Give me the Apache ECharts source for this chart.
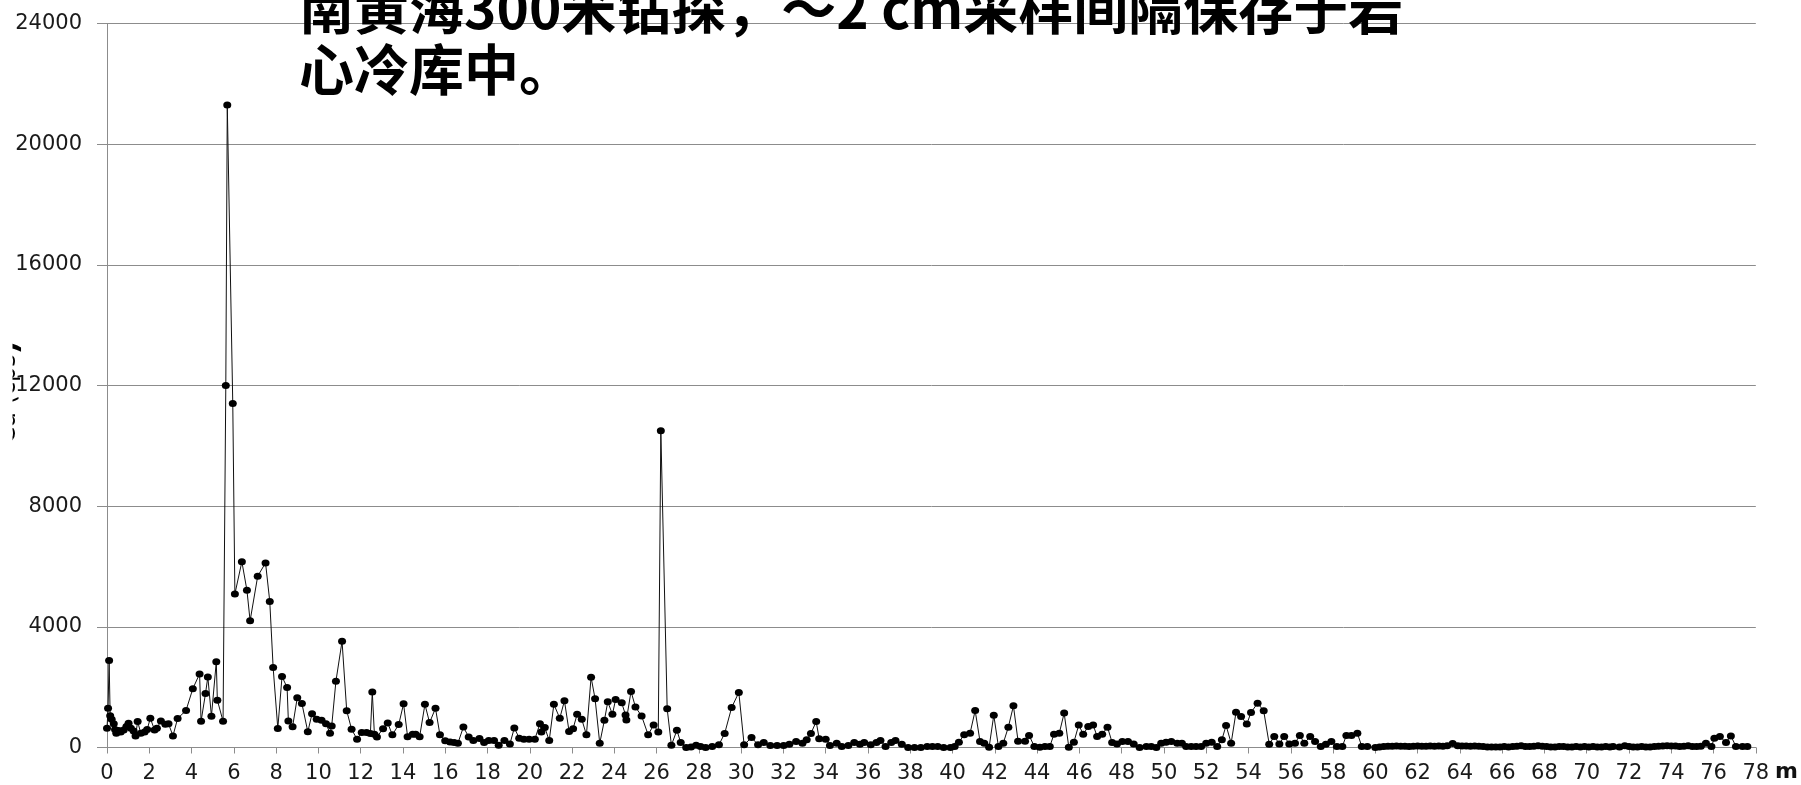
<!DOCTYPE html>
<html>
<head>
<meta charset="utf-8">
<title>钻孔岩心 XRF 计数随深度变化</title>
<script src="https://cdn.jsdelivr.net/npm/echarts@6/dist/echarts.min.js"></script>
<style>
  html, body { margin: 0; padding: 0; background: #fff; }
  #chart { width: 1801px; height: 785px; }
</style>
</head>
<body>
<div id="chart"></div>
<script>
// Core depth (m) of each measured sample
const depthM = [
  0.00, 0.05, 0.10, 0.15, 0.22, 0.32, 0.38, 0.44, 0.55, 0.65,
  0.79, 0.92, 1.02, 1.13, 1.26, 1.35, 1.45, 1.60, 1.78, 1.90,
  2.05, 2.25, 2.36, 2.55, 2.76, 2.91, 3.12, 3.34, 3.74, 4.06,
  4.38, 4.45, 4.66, 4.77, 4.94, 5.17, 5.22, 5.49, 5.62, 5.69,
  5.95, 6.05, 6.38, 6.62, 6.77, 7.13, 7.50, 7.70, 7.86, 8.08,
  8.28, 8.52, 8.58, 8.78, 9.00, 9.22, 9.50, 9.70, 9.92, 10.15,
  10.36, 10.55, 10.63, 10.83, 11.12, 11.34, 11.57, 11.83, 12.05, 12.28,
  12.46, 12.55, 12.65, 12.77, 13.06, 13.28, 13.50, 13.80, 14.03, 14.22,
  14.46, 14.60, 14.79, 15.04, 15.26, 15.54, 15.75, 16.00, 16.23, 16.42,
  16.60, 16.86, 17.11, 17.33, 17.62, 17.84, 18.06, 18.31, 18.53, 18.80,
  19.06, 19.27, 19.50, 19.72, 19.97, 20.24, 20.48, 20.55, 20.71, 20.92,
  21.14, 21.42, 21.64, 21.86, 22.05, 22.24, 22.46, 22.68, 22.90, 23.09,
  23.31, 23.53, 23.69, 23.91, 24.06, 24.35, 24.53, 24.57, 24.79, 25.00,
  25.29, 25.60, 25.86, 26.08, 26.20, 26.50, 26.70, 26.96, 27.14, 27.40,
  27.63, 27.87, 28.08, 28.32, 28.63, 28.95, 29.22, 29.55, 29.89, 30.14,
  30.49, 30.80, 31.07, 31.38, 31.70, 32.01, 32.28, 32.60, 32.90, 33.10,
  33.30, 33.55, 33.69, 34.00, 34.20, 34.52, 34.76, 35.07, 35.35, 35.62,
  35.82, 36.13, 36.40, 36.59, 36.83, 37.10, 37.30, 37.60, 37.90, 38.20,
  38.50, 38.80, 39.05, 39.30, 39.58, 39.90, 40.10, 40.30, 40.55, 40.83,
  41.07, 41.30, 41.50, 41.73, 41.95, 42.17, 42.40, 42.64, 42.88, 43.10,
  43.43, 43.62, 43.87, 44.13, 44.37, 44.60, 44.80, 45.05, 45.28, 45.50,
  45.74, 45.97, 46.18, 46.42, 46.65, 46.84, 47.08, 47.33, 47.55, 47.78,
  48.03, 48.30, 48.57, 48.85, 49.17, 49.40, 49.64, 49.87, 50.10, 50.35,
  50.63, 50.85, 51.05, 51.29, 51.52, 51.76, 52.00, 52.26, 52.52, 52.74,
  52.94, 53.18, 53.41, 53.65, 53.92, 54.12, 54.43, 54.72, 54.98, 55.22,
  55.46, 55.69, 55.93, 56.20, 56.43, 56.64, 56.92, 57.15, 57.42, 57.66,
  57.92, 58.18, 58.44, 58.63, 58.87, 59.15, 59.36, 59.62, 60.00, 60.20,
  60.40, 60.60, 60.80, 61.00, 61.20, 61.40, 61.60, 61.80, 62.00, 62.20,
  62.40, 62.60, 62.80, 63.00, 63.20, 63.40, 63.66, 63.90, 64.10, 64.30,
  64.50, 64.70, 64.90, 65.10, 65.30, 65.50, 65.70, 65.90, 66.10, 66.30,
  66.50, 66.70, 66.90, 67.10, 67.30, 67.50, 67.70, 67.90, 68.10, 68.30,
  68.50, 68.70, 68.90, 69.10, 69.30, 69.50, 69.70, 69.90, 70.10, 70.30,
  70.50, 70.70, 70.90, 71.10, 71.25, 71.55, 71.80, 72.00, 72.20, 72.40,
  72.60, 72.80, 73.00, 73.20, 73.40, 73.60, 73.80, 74.00, 74.20, 74.40,
  74.60, 74.80, 75.00, 75.20, 75.40, 75.64, 75.90, 76.04, 76.30, 76.59,
  76.82, 77.06, 77.37, 77.60
];

// XRF counts at each depth
const counts = [
  640, 1300, 2880, 1050, 935, 790, 600, 470, 560, 515,
  580, 700, 800, 640, 550, 385, 860, 470, 515, 600,
  970, 580, 640, 880, 770, 790, 385, 960, 1230, 1950,
  2440, 870, 1790, 2340, 1040, 2840, 1570, 870, 12000, 21300,
  11400, 5090, 6160, 5210, 4200, 5680, 6120, 4840, 2650, 630,
  2350, 1990, 880, 690, 1650, 1460, 520, 1120, 935, 900,
  790, 470, 715, 2200, 3520, 1220, 605, 275, 495, 495,
  460, 1840, 440, 350, 625, 810, 420, 760, 1450, 360,
  440, 440, 360, 1430, 825, 1300, 420, 220, 185, 165,
  140, 680, 350, 230, 300, 165, 230, 230, 75, 230,
  120, 650, 310, 275, 275, 275, 790, 515, 660, 230,
  1430, 970, 1550, 530, 625, 1100, 935, 420, 2330, 1615,
  140, 900, 1515, 1100, 1590, 1480, 1075, 910, 1860, 1340,
  1045, 420, 750, 515, 10500, 1285, 75, 570, 165, 0,
  20, 75, 35, 0, 35, 90, 465, 1325, 1825, 90,
  330, 90, 165, 65, 65, 65, 110, 200, 145, 255,
  465, 860, 290, 275, 65, 145, 35, 65, 165, 110,
  165, 90, 165, 230, 35, 165, 230, 110, 0, 0,
  0, 35, 35, 35, 0, 0, 35, 175, 420, 475,
  1225, 200, 145, 10, 1070, 35, 145, 675, 1380, 210,
  210, 400, 35, 10, 35, 35, 440, 475, 1140, 10,
  175, 750, 440, 695, 750, 365, 440, 675, 165, 120,
  200, 200, 120, 0, 35, 35, 0, 145, 175, 200,
  145, 145, 35, 35, 35, 35, 145, 175, 35, 255,
  730, 145, 1170, 1030, 775, 1160, 1470, 1215, 110, 365,
  120, 365, 120, 145, 400, 145, 365, 200, 35, 110,
  200, 35, 35, 400, 400, 475, 35, 35, 0, 20,
  30, 40, 40, 50, 40, 40, 30, 40, 50, 40,
  40, 50, 40, 50, 40, 60, 130, 60, 50, 50,
  40, 50, 40, 30, 20, 20, 20, 20, 30, 20,
  30, 40, 60, 30, 30, 40, 60, 40, 30, 20,
  20, 30, 30, 20, 20, 30, 20, 30, 20, 30,
  20, 20, 30, 20, 30, 20, 60, 30, 20, 20,
  30, 20, 20, 30, 40, 50, 60, 50, 50, 30,
  40, 60, 30, 30, 40, 145, 35, 310, 365, 165,
  385, 35, 35, 35
];

// Axis ranges and tick steps
const depthTicks = { min: 0, max: 78, step: 2 };
const countTicks = { min: 0, max: 24000, step: 4000 };

// Overlaid caption lines
const captionLines = [
  '南黄海300米钻探，～2 cm采样间隔保存于岩',
  '心冷库中。'
];
const countAxisTitle = ['Ca (cps', ')'];
const depthUnit = 'm';

const seriesData = depthM.map((d, i) => [d, counts[i]]);

const axisGray = '#8c8c8c';
const labelColor = '#1a1a1a';
const labelFont = 'DejaVu Sans';
const captionFont = 'bold 55px "Noto Sans CJK SC"';

const chart = echarts.init(document.getElementById('chart'), null, { renderer: 'canvas' });

chart.setOption({
  animation: false,
  backgroundColor: '#fff',
  grid: { left: 107, right: 41, top: 23.5, bottom: 37.5, containLabel: false },
  xAxis: {
    type: 'value',
    min: depthTicks.min,
    max: depthTicks.max,
    interval: depthTicks.step,
    name: depthUnit,
    nameLocation: 'end',
    nameGap: 9,
    nameTextStyle: {
      fontFamily: labelFont, fontWeight: 'bold', fontSize: 22, color: '#111',
      verticalAlign: 'top', padding: [14, 0, 0, 0]
    },
    axisLine: { show: true, onZero: false, lineStyle: { color: axisGray, width: 1 } },
    axisTick: { show: true, inside: false, length: 6, lineStyle: { color: axisGray, width: 1 } },
    axisLabel: { fontFamily: labelFont, fontSize: 21, color: labelColor, margin: 16 },
    splitLine: { show: false }
  },
  yAxis: {
    type: 'value',
    min: countTicks.min,
    max: countTicks.max,
    interval: countTicks.step,
    axisLine: { show: true, lineStyle: { color: axisGray, width: 1 } },
    axisTick: { show: true, inside: false, length: 10, lineStyle: { color: axisGray, width: 1 } },
    axisLabel: {
      fontFamily: labelFont, fontSize: 21, color: labelColor, margin: 25,
      formatter: (v) => String(v)
    },
    splitLine: { show: true, lineStyle: { color: axisGray, width: 1 } }
  },
  series: [{
    type: 'line',
    data: seriesData,
    symbol: 'circle',
    symbolSize: [8, 7],
    showSymbol: true,
    showAllSymbol: true,
    itemStyle: { color: '#000' },
    lineStyle: { color: '#111', width: 1 },
    emphasis: { disabled: true },
    silent: true,
    z: 3
  }],
  graphic: [
    {
      type: 'text',
      z: 100,
      x: 299, y: 8,
      style: {
        text: captionLines[0],
        font: captionFont,
        fill: '#000',
        textAlign: 'left',
        textVerticalAlign: 'middle'
      }
    },
    {
      type: 'text',
      z: 100,
      x: 299, y: 69,
      style: {
        text: captionLines[1],
        font: captionFont,
        fill: '#000',
        textAlign: 'left',
        textVerticalAlign: 'middle'
      }
    },
    {
      // vertical count-axis title, mostly beyond the left edge
      type: 'text',
      z: 90,
      x: 9, y: 392,
      rotation: Math.PI / 2,
      style: {
        text: '{a|' + countAxisTitle[0] + '}{b|' + countAxisTitle[1] + '}',
        rich: {
          a: { fontFamily: labelFont, fontSize: 24, fill: '#000' },
          b: { fontFamily: labelFont, fontSize: 30, fontWeight: 'bold', fill: '#000' }
        },
        fill: '#000',
        textAlign: 'center',
        textVerticalAlign: 'middle'
      }
    },
    {
      type: 'rect',
      z: 95,
      shape: { x: 0, y: 300, width: 12.5, height: 170 },
      style: { fill: '#fff' }
    }
  ]
});
</script>
</body>
</html>
